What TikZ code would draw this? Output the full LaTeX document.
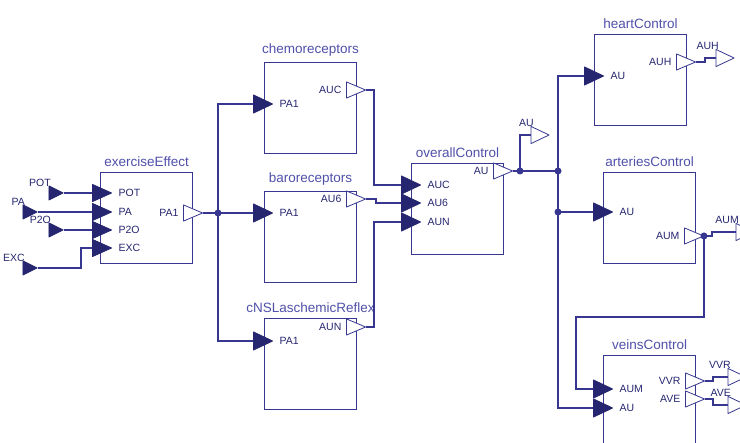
\documentclass[tikz,border=0pt]{standalone}
\usepackage{fontspec}
\setmainfont{Liberation Sans}
\usetikzlibrary{positioning}
\definecolor{wire}{RGB}{55,55,145}
\definecolor{portink}{RGB}{38,38,112}
\definecolor{titleblue}{RGB}{80,80,170}
\begin{document}
\begin{tikzpicture}[x=1pt,y=-1pt,line width=1.3pt,color=wire,
  block/.style={draw=wire,line width=1.2pt,minimum width=92pt,minimum height=91pt,
    anchor=north west,inner sep=0pt,fill=white},
  title/.style={font=\fontsize{13.5}{15}\selectfont,text=titleblue,inner sep=1pt,label distance=4pt},
  plabel/.style={font=\fontsize{10.5}{12}\selectfont,text=portink,inner sep=1pt},
  tri/.style 2 args={rectangle,inner sep=0pt,outer sep=0pt,
    path picture={\draw[draw=#1,fill=#2,line width=0.8pt,line join=round]
      ([shift={(0.4pt,-0.4pt)}]path picture bounding box.north west)
      -- ([xshift=-0.4pt]path picture bounding box.east)
      -- ([shift={(0.4pt,0.4pt)}]path picture bounding box.south west) -- cycle;}},
  inport/.style={tri={portink}{portink},minimum width=20pt,minimum height=19pt},
  smallin/.style={inport,minimum width=20pt,minimum height=18pt},
  outport/.style={tri={wire}{white},minimum width=20pt,minimum height=17pt},
  source/.style={tri={portink}{portink},minimum width=15pt,minimum height=15pt},
  sink/.style={tri={wire}{white},minimum width=19pt,minimum height=18pt},
  inlabel/.style={label={[plabel,label distance=5pt]right:#1}},
  outlabel/.style={label={[plabel,label distance=3pt]left:#1}},
  taglabel/.style={label={[plabel,label distance=-3pt]125:#1}},
  dot/.style={circle,fill=wire,inner sep=0pt,minimum size=7pt}]
\useasboundingbox (0,0) rectangle (740,443);
\clip (0,0) rectangle (740,443);

\node[block,label={[title]above:exerciseEffect}] (ee) at (100,172) {};
\node[smallin,inlabel=POT] (ee-pot) at (102,193) {};
\node[smallin,inlabel=PA] (ee-pa) at (102,212) {};
\node[smallin,inlabel=P2O] (ee-p2o) at (102,230) {};
\node[smallin,inlabel=EXC] (ee-exc) at (102,248) {};
\node[outport,outlabel=PA1] (ee-pa1) at (193,213) {};

\node[source,taglabel=POT] (src-pot) at (56,193) {};
\node[source,taglabel=PA] (src-pa) at (30,212) {};
\node[source,taglabel=P2O] (src-p2o) at (56,230) {};
\node[source,taglabel=EXC] (src-exc) at (30,268) {};

\node[block,label={[title]above:chemoreceptors}] (chemo) at (264,62) {};
\node[inport,inlabel=PA1] (chemo-pa1) at (263,104) {};
\node[outport,outlabel=AUC] (chemo-auc) at (356,90) {};

\node[block,label={[title]above:baroreceptors}] (baro) at (264,191) {};
\node[inport,inlabel=PA1] (baro-pa1) at (263,213) {};
\node[outport,outlabel=AU6] (baro-au6) at (356,199) {};

\node[block,label={[title]above:cNSLaschemicReflex}] (cns) at (264,318) {};
\node[inport,inlabel=PA1] (cns-pa1) at (263,341) {};
\node[outport,outlabel=AUN] (cns-aun) at (356,327) {};

\node[block,label={[title]above:overallControl}] (ov) at (411,163) {};
\node[inport,inlabel=AUC] (ov-auc) at (411,185) {};
\node[inport,inlabel=AU6] (ov-au6) at (411,203) {};
\node[inport,inlabel=AUN] (ov-aun) at (411,222) {};
\node[outport,outlabel=AU] (ov-au) at (503,171) {};

\node[block,label={[title]above:heartControl}] (heart) at (594,34) {};
\node[inport,inlabel=AU] (heart-au) at (594,76) {};
\node[outport,outlabel=AUH] (heart-auh) at (686,62) {};

\node[block,label={[title]above:arteriesControl}] (art) at (603,172) {};
\node[inport,inlabel=AU] (art-au) at (603,212) {};
\node[outport,outlabel=AUM] (art-aum) at (694,236) {};

\node[block,label={[title]above:veinsControl}] (veins) at (603,355) {};
\node[inport,inlabel=AUM] (veins-aum) at (603,389) {};
\node[inport,inlabel=AU] (veins-au) at (603,408) {};
\node[outport,outlabel=VVR] (veins-vvr) at (695,381) {};
\node[outport,outlabel=AVE] (veins-ave) at (695,399) {};

\node[sink,taglabel=AU] (sink-au) at (540,135) {};
\node[sink,taglabel=AUH] (sink-auh) at (725,58) {};
\node[sink,taglabel=AUM] (sink-aum) at (745,232) {};
\node[sink,taglabel=VVR] (sink-vvr) at (737,377) {};
\node[sink,taglabel=AVE] (sink-ave) at (737,405) {};

\coordinate (bus) at (374,0);
\coordinate (bus6) at (376,0);

\draw (src-pot.east) -- (ee-pot.west);
\draw (src-pa.east) -- (ee-pa.west);
\draw (src-p2o.east) -- (ee-p2o.west);
\draw (src-exc.east) -| ([xshift=-11pt]ee-exc.west) -- (ee-exc.west);
\draw (ee-pa1.east) -- (218,213) coordinate (j1);
\draw (j1) |- (chemo-pa1.west);
\draw (j1) -- (baro-pa1.west);
\draw (j1) |- (cns-pa1.west);
\draw (chemo-auc.east) -| (bus |- ov-auc.west) -- (ov-auc.west);
\draw (baro-au6.east) -| (bus6 |- ov-au6.west) -- (ov-au6.west);
\draw (cns-aun.east) -| (bus |- ov-aun.west) -- (ov-aun.west);
\draw (ov-au.east) -- (520,171) coordinate (j2) -- (558,171) coordinate (j3);
\draw (j2) |- (sink-au.west);
\draw (heart-au.west) -| (j3);
\draw (j3) -- (558,212) coordinate (j4) |- (veins-au.west);
\draw (j4) -- (art-au.west);
\draw (heart-auh.east) -- ++(9,0) |- (sink-auh.west);
\draw (art-aum.east) -- ++(8,0) |- (sink-aum.west);
\draw (art-aum.east) -- ++(0,81) -| ([xshift=-17pt]veins-aum.west) -- (veins-aum.west);
\draw (veins-vvr.east) -- ++(8,0) |- (sink-vvr.west);
\draw (veins-ave.east) -- ++(8,0) |- (sink-ave.west);

\foreach \j in {j1,j2,j3,j4}
  \node[dot] at (\j) {};
\node[dot] at (art-aum.east) {};
\end{tikzpicture}
\end{document}
